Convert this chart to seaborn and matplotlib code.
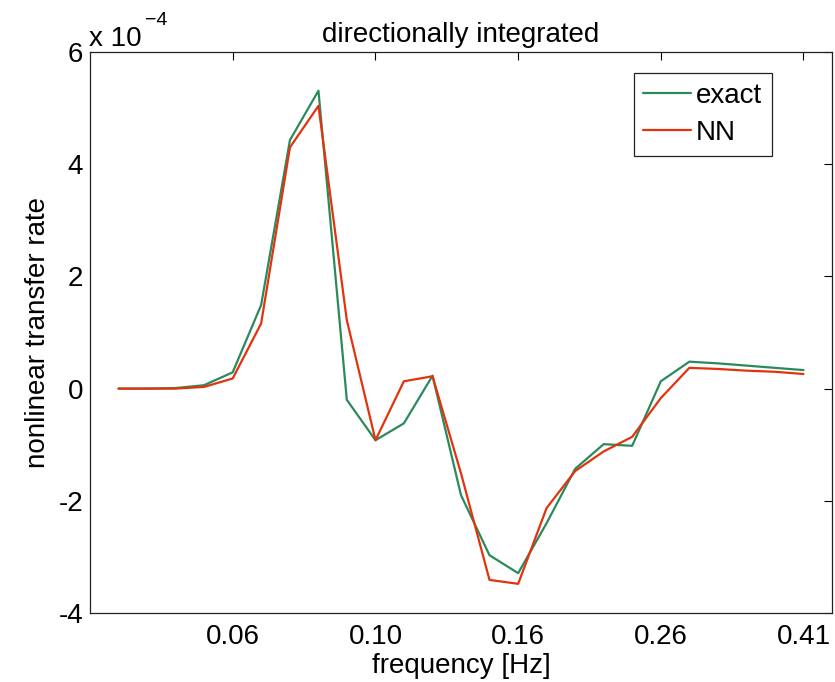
import pandas as pd
import seaborn as sns
import numpy as np
import matplotlib.pyplot as plt

# frequencies [Hz], log spaced (factor 1.1)
freq = [0.0418, 0.0460, 0.0506, 0.0556, 0.0612, 0.0673, 0.0741, 0.0815, 0.0896,
        0.0986, 0.1084, 0.1193, 0.1312, 0.1443, 0.1588, 0.1746, 0.1921, 0.2113,
        0.2324, 0.2557, 0.2813, 0.3094, 0.3403, 0.3743, 0.4118]

# nonlinear transfer rate, in units of 1e-4
exact = [0.0, 0.0, 0.01, 0.06, 0.29, 1.49, 4.43, 5.31, -0.20, -0.92, -0.62, 0.23,
         -1.90, -2.97, -3.29, -2.40, -1.43, -0.99, -1.02, 0.13, 0.48, 0.45, 0.41,
         0.37, 0.33]
nn = [0.0, 0.0, 0.0, 0.03, 0.18, 1.16, 4.30, 5.04, 1.22, -0.92, 0.13, 0.22,
      -1.51, -3.41, -3.48, -2.13, -1.47, -1.12, -0.86, -0.17, 0.37, 0.35, 0.32,
      0.30, 0.26]

series = ["exact", "NN"]
tick_idx = [4, 9, 14, 19, 24]
yticks = [-4, -2, 0, 2, 4, 6]

df = pd.DataFrame({
    "freq": freq * 2,
    "rate": exact + nn,
    "series": ["exact"] * len(freq) + ["NN"] * len(freq)})

sns.set_style("white")
plt.rcParams["font.family"] = ["Liberation Sans", "DejaVu Sans"]
plt.rcParams["text.color"] = "black"
plt.rcParams["axes.labelcolor"] = "black"

fig = plt.figure(figsize=(8.35, 6.82), dpi=100)
ax = fig.add_axes([90 / 835, 69 / 682, 742 / 835, 561 / 682])

sns.lineplot(
    data=df,
    x="freq",
    y="rate",
    hue="series",
    hue_order=series,
    palette={"exact": "#2b8a5c", "NN": "#e2330f"},
    estimator=None,
    sort=False,
    linewidth=1.6,
    ax=ax)

ax.set_xscale("log")
ax.set_xlim(freq[0] / 1.1, freq[-1] * 1.1)
ax.set_ylim(-4, 6)
ax.set_xticks([freq[i] for i in tick_idx])
ax.set_xticklabels(["%.2f" % freq[i] for i in tick_idx])
ax.xaxis.set_minor_locator(plt.NullLocator())
ax.set_yticks(yticks)
ax.set_yticklabels([str(v) for v in yticks])

ax.tick_params(axis="both", which="major", direction="in", length=6, width=0.8,
               top=True, right=True, labelsize=20, colors="black")
ax.tick_params(axis="x", pad=8)
ax.tick_params(axis="y", pad=5)
for s in ax.spines.values():
    s.set_color("#222222")
    s.set_linewidth(0.9)

ax.set_xlabel("frequency [Hz]", fontsize=20, labelpad=2)
ax.set_ylabel("nonlinear transfer rate", fontsize=20, labelpad=5)
ax.set_title("directionally integrated", fontsize=20, pad=7)

fig.text(89 / 835, 1 - 46 / 682, "x 10", fontsize=20, ha="left", va="baseline")
fig.text(145 / 835, 1 - 25 / 682, "\u22124", fontsize=14, ha="left", va="baseline")

leg = ax.legend(
    loc="upper right",
    bbox_to_anchor=(772 / 835, 1 - 73 / 682),
    bbox_transform=fig.transFigure,
    borderaxespad=0,
    fontsize=20,
    frameon=True,
    fancybox=False,
    handlelength=1.7,
    handletextpad=0.2,
    borderpad=0.35,
    labelspacing=0.4)
leg.get_frame().set_edgecolor("#222222")
leg.get_frame().set_linewidth(0.9)
leg.get_frame().set_alpha(1)

fig.savefig("out.png", dpi=100)
